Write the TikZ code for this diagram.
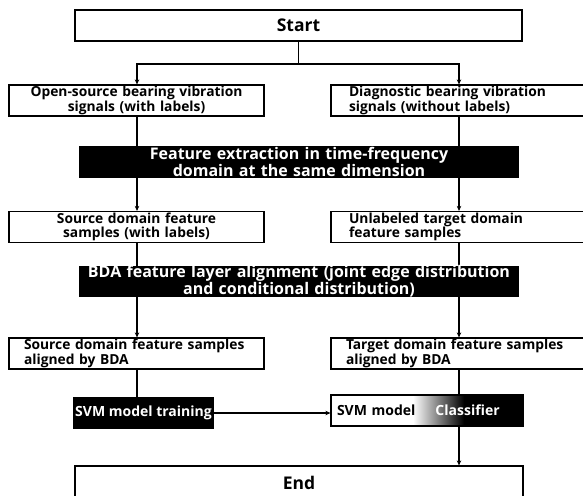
\documentclass[tikz,border=0pt]{standalone}
\usepackage{fontspec}
\setmainfont{Open Sans}
\usetikzlibrary{arrows.meta,backgrounds,calc}
\begin{document}
\begin{tikzpicture}[x=1pt,y=-1pt,
  box/.style={draw, line width=1.2pt, fill=white, minimum height=31pt, inner ysep=0pt,
    font=\bfseries\fontsize{13.8}{14.5}\selectfont},
  blk/.style={fill=black, text=white, minimum height=32pt, inner sep=0pt,
    font=\bfseries\fontsize{16}{17}\selectfont, align=center, text width=440pt},
  conn/.style={line width=1.2pt},
  arr/.style={conn, -{Stealth[length=5pt,width=4.5pt]}}]
\clip (0,0) rectangle (583,495);
\coordinate (L) at (137,0);
\coordinate (R) at (459,0);
\coordinate (J) at (298.5,64);
% nodes
\node[box, minimum width=447pt, font=\bfseries\fontsize{17.5}{19}\selectfont] (start) at (298.5,25.5) {Start};
\node[box, text width=245pt, inner xsep=5pt, align=center] (src1) at (136.5,100.5) {Open-source bearing vibration\\signals (with labels)};
\node[box, text width=233pt, inner xsep=18pt, align=left] (tgt1) at (465.5,100.5) {Diagnostic bearing vibration\\signals (without labels)};
\node[blk] (fe) at (299,162) {Feature extraction in time-frequency\\domain at the same dimension};
\node[box, text width=245pt, inner xsep=5pt, align=center] (src2) at (136.5,227) {Source domain feature\\samples (with labels)};
\node[box, text width=233pt, inner xsep=18pt, align=left] (tgt2) at (465.5,227) {Unlabeled target domain\\feature samples};
\node[blk, minimum height=31pt] (bda) at (299,281.5) {BDA feature layer alignment (joint edge distribution\\and conditional distribution)};
\node[box, text width=225pt, inner xsep=15pt, align=left] (src3) at (136.5,353.5) {Source domain feature samples\\aligned by BDA};
\node[box, text width=239pt, inner xsep=15pt, align=left] (tgt3) at (465.5,353.5) {Target domain feature samples\\aligned by BDA};
\node[fill=black, text=white, minimum width=141pt, minimum height=32pt, inner sep=0pt,
  font=\bfseries\fontsize{14}{15}\selectfont] (svmt) at (143.5,413) {SVM model training};
\node[draw, line width=1.2pt, minimum height=31pt, inner ysep=0pt, text width=180pt, inner xsep=6pt, align=left,
  font=\bfseries\fontsize{14}{15}\selectfont,
  path picture={
    \coordinate (pb1) at (path picture bounding box.north west);
    \coordinate (pb2) at (path picture bounding box.south east);
    \fill[white] (pb1) rectangle (pb2);
    \fill[black] ($(pb1)+(132,0)$) rectangle (pb2);
    \shade[left color=white, right color=black] ($(pb1)+(82,0)$) rectangle ($(pb1|-pb2)+(133,0)$);
  }] (svmm) at (427,410.5) {SVM model\hspace{20pt}\textcolor{white}{Classifier}};
\node[box, minimum width=448pt, minimum height=34pt, font=\bfseries\fontsize{17.5}{19}\selectfont] (end) at (299,483) {End};
% connectors
\begin{pgfonlayer}{background}
\draw[conn] (start.south) -- (J);
\draw[arr] (J) -| (L |- src1.north);
\draw[arr] (J) -| (R |- tgt1.north);
\draw[arr] (L |- src1.south) -- (L |- src2.north);
\draw[arr] (R |- tgt1.south) -- (R |- tgt2.north);
\draw[arr] (L |- src2.south) -- (L |- src3.north);
\draw[arr] (R |- tgt2.south) -- (R |- tgt3.north);
\draw[conn] (L |- src3.south) -- (L |- svmt.north);
\draw[conn] (R |- tgt3.south) -- (R |- svmm.north);
\draw[arr] (R |- svmm.south) -- (R |- end.north);
\end{pgfonlayer}
\draw[arr] (svmt.east) -- (svmt.east -| svmm.west);
\end{tikzpicture}
\end{document}
